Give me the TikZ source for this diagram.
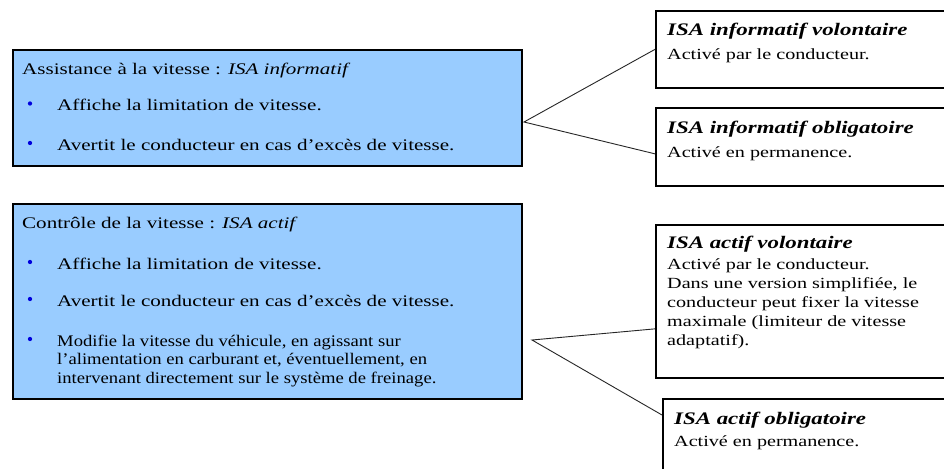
\documentclass[tikz,border=0pt]{standalone}
\usepackage{fontspec}
\setmainfont{Liberation Serif}[FakeStretch=1.3]
\newfontfamily\narrowserif{Liberation Serif}[FakeStretch=1.15]
\definecolor{boxblue}{RGB}{153,204,255}
\definecolor{bulletblue}{RGB}{0,0,220}
\begin{document}
\begin{tikzpicture}[x=1pt,y=-1pt,
  bluebox/.style={draw=black, line width=1.7pt, fill=boxblue, inner sep=0pt, anchor=north west},
  whitebox/.style={draw=black, line width=1.7pt, fill=white, inner sep=0pt, anchor=north west},
  ltxt/.style={anchor=base west, inner sep=0pt, font=\fontsize{16.2}{19}\selectfont},
  ntxt/.style={anchor=base west, inner sep=0pt, font=\narrowserif\fontsize{16.2}{19}\selectfont},
  txt/.style={anchor=base west, inner sep=0pt, font=\fontsize{15.5}{19}\selectfont},
  ttl/.style={anchor=base west, inner sep=0pt, font=\fontsize{17.6}{20}\selectfont\bfseries\itshape},
  bdot/.style={circle, fill=bulletblue, inner sep=0pt, minimum size=4.3pt},
  link/.style={draw=black!85, line width=0.9pt}]
\useasboundingbox (0,0) rectangle (944,468);
\fill[white] (0,0) rectangle (944,468);
\begin{scope}
\clip (0,0) rectangle (944,468);
% left boxes
\node[bluebox, minimum width=509pt, minimum height=116pt] (b1) at (12,49) {};
\node[bluebox, minimum width=509pt, minimum height=195pt] (b2) at (12,203) {};
% right boxes
\node[whitebox, minimum width=300pt, minimum height=77pt] (r1) at (655,10) {};
\node[whitebox, minimum width=300pt, minimum height=78pt] (r2) at (655,107) {};
\node[whitebox, minimum width=300pt, minimum height=153pt] (r3) at (655,224) {};
\node[whitebox, minimum width=300pt, minimum height=90pt] (r4) at (662,398) {};
% connectors
\coordinate (t1) at (524,122);
\coordinate (t2) at (532,340);
\draw[link] (r1.west) -- (t1) -- ([yshift=-7pt]r2.west);
\draw[link] ([yshift=-27.5pt]r3.west) -- (t2) -- ([yshift=-17pt]r4.north west);
% box 1 text
\node[ltxt] (b1t) at (22,75) {Assistance à la vitesse : \textit{ISA informatif}};
\node[bdot] (b1d1) at (30,103.5) {};
\node[ltxt] (b1l1) at (57,110.5) {Affiche la limitation de vitesse.};
\node[bdot] (b1d2) at (30,143) {};
\node[ltxt] (b1l2) at (57,150) {Avertit le conducteur en cas d’excès de vitesse.};
% box 2 text
\node[ltxt] (b2t) at (22,228) {Contrôle de la vitesse : \textit{ISA actif}};
\node[bdot] (b2d1) at (30,262) {};
\node[ltxt] (b2l1) at (57,269) {Affiche la limitation de vitesse.};
\node[bdot] (b2d2) at (30,299) {};
\node[ltxt] (b2l2) at (57,306) {Avertit le conducteur en cas d’excès de vitesse.};
\node[bdot] (b2d3) at (30,339) {};
\node[ntxt] (b2l3a) at (57,346) {Modifie la vitesse du véhicule, en agissant sur};
\node[ntxt] (b2l3b) at (57,364.5) {l’alimentation en carburant et, éventuellement, en};
\node[ntxt] (b2l3c) at (57,383) {intervenant directement sur le système de freinage.};
% right texts
\node[ttl] (r1t) at (667,36) {ISA informatif volontaire};
\node[txt] (r1b) at (667,60) {Activé par le conducteur.};
\node[ttl] (r2t) at (667,133) {ISA informatif obligatoire};
\node[txt] (r2b) at (667,157) {Activé en permanence.};
\node[ttl] (r3t) at (667,248) {ISA actif volontaire};
\node[txt] (r3b1) at (667,269) {Activé par le conducteur.};
\node[txt] (r3b2) at (667,288) {Dans une version simplifiée, le};
\node[txt] (r3b3) at (667,307) {conducteur peut fixer la vitesse};
\node[txt] (r3b4) at (667,326) {maximale (limiteur de vitesse};
\node[txt] (r3b5) at (667,345) {adaptatif).};
\node[ttl] (r4t) at (674,424) {ISA actif obligatoire};
\node[txt] (r4b) at (674,446) {Activé en permanence.};
\end{scope}
\end{tikzpicture}
\end{document}
